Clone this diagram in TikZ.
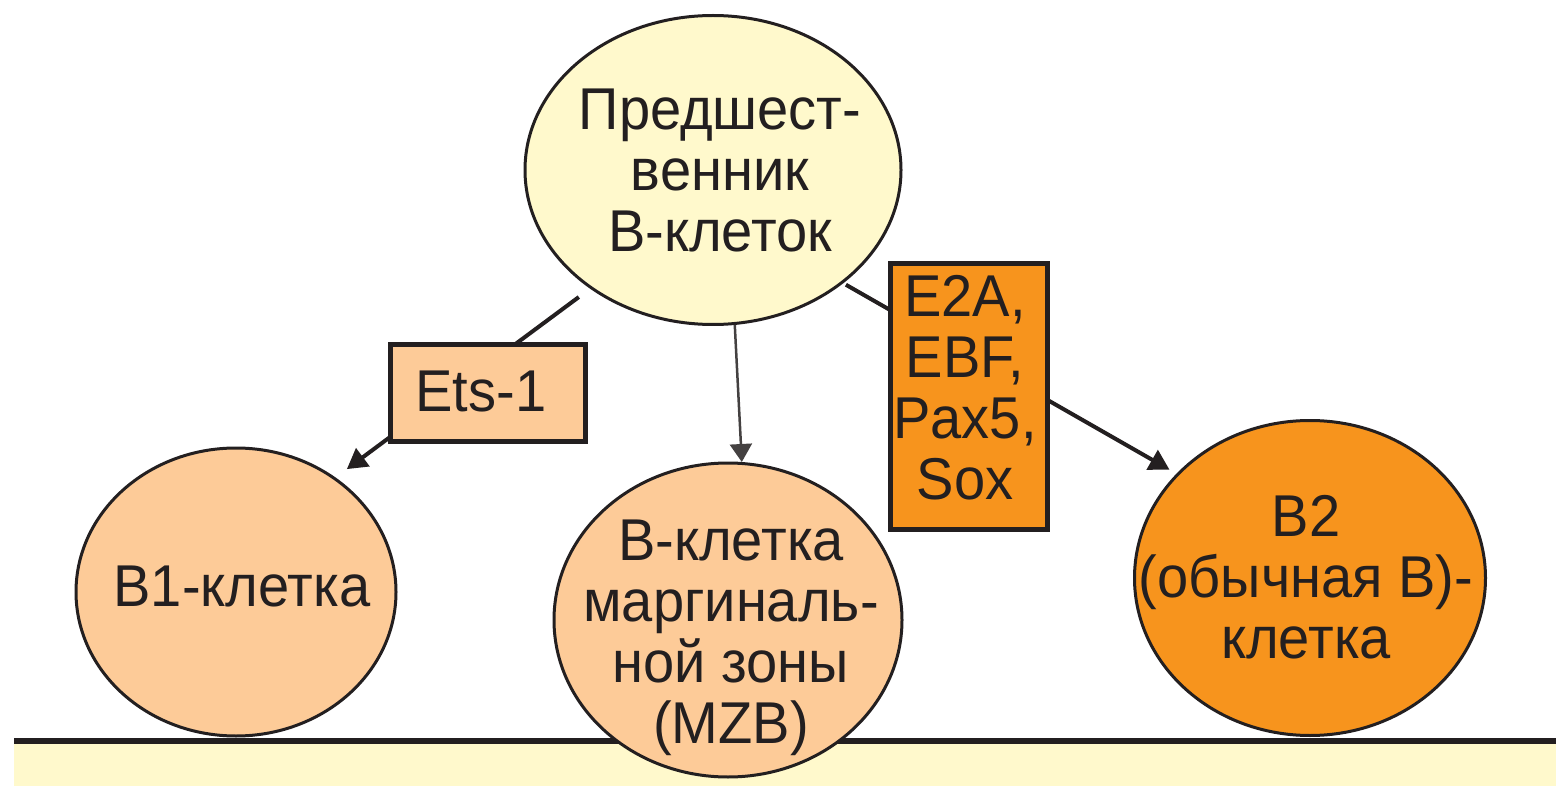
\documentclass[tikz,border=0pt]{standalone}
\usepackage{fontspec}
\setmainfont{Liberation Sans}[FakeStretch=0.95]
\usetikzlibrary{shapes.geometric,arrows.meta}
\definecolor{ink}{HTML}{231F20}
\definecolor{paleyellow}{HTML}{FFF9CC}
\definecolor{lightorange}{HTML}{FDCB98}
\definecolor{darkorange}{HTML}{F7941D}
\begin{document}
\begin{tikzpicture}[x=1pt,y=-1pt,
  cell/.style={ellipse, draw=ink, line width=3pt, inner sep=0pt},
  tfbox/.style={rectangle, draw=ink, line width=5pt, inner sep=0pt},
  lbl/.style={align=center, text=ink, inner sep=0pt, font=\fontsize{59pt}{61pt}\selectfont},
  conn/.style={draw=ink, line width=4pt, -{Triangle[length=20pt,width=22pt]}},
  thinconn/.style={draw=ink!85, line width=2.5pt, -{Triangle[length=18pt,width=22pt]}}
]
\useasboundingbox (0,0) rectangle (1556,786);
% ground band
\fill[paleyellow] (14,741) rectangle (1556,786);
\draw[ink, line width=6pt] (14,741) -- (1556,741);

% cells
\node[cell, fill=paleyellow, minimum width=376pt, minimum height=309pt] (prec) at (713,170) {};
\node[cell, fill=lightorange, minimum width=320pt, minimum height=288pt] (b1) at (236,592) {};
\node[cell, fill=lightorange, minimum width=348pt, minimum height=314pt] (mzb) at (728,620) {};
\node[cell, fill=darkorange, minimum width=351pt, minimum height=315pt] (b2) at (1310,578) {};

% connectors
\draw[conn, shorten <=14pt, shorten >=14pt] (prec.224) -- (b1.49);
\draw[thinconn] (prec.278) -- (mzb.85);
\draw[conn, shorten <=3pt, shorten >=8pt] (prec.319) -- (b2.142);

% factor boxes
\node[tfbox, fill=lightorange, minimum width=195pt, minimum height=97pt] (ets) at (488,393) {};
\node[tfbox, fill=darkorange, minimum width=157pt, minimum height=266pt] (e2a) at (969,396.5) {};

% labels
\node[lbl] (precl) at (720,170) {Предшест-\\венник\\B-клеток};
\node[lbl] (b1l) at (242,586) {B1-клетка};
\node[lbl] (mzbl) at (731,638) {B-клетка\\маргиналь-\\ной зоны\\(MZB)};
\node[lbl] (b2l) at (1306,577) {B2\\(обычная B)-\\клетка};
\node[lbl] (etsl) at (481,391) {Ets-1};
\node[lbl] (e2al) at (965,388) {E2A,\\EBF,\\Pax5,\\Sox};
\end{tikzpicture}
\end{document}
